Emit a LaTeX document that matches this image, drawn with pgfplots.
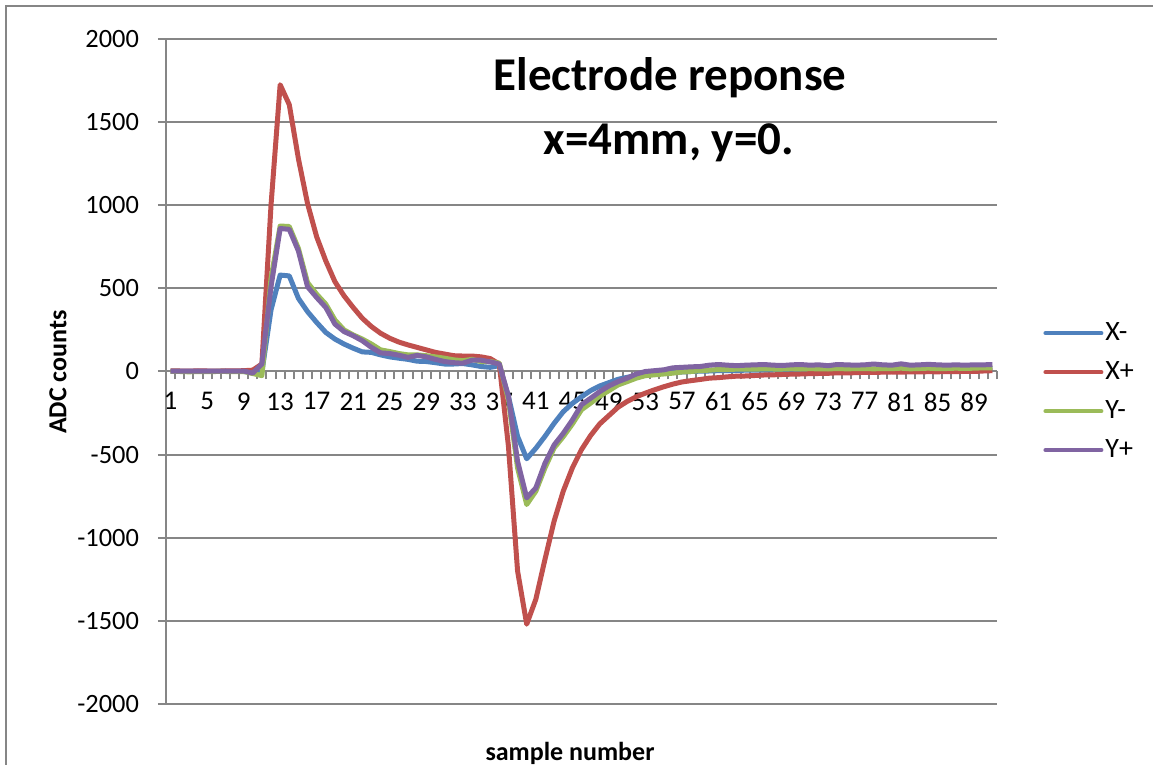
\documentclass[border=0pt]{standalone}
\usepackage{pgfplots}
\usepackage{pgfplotstable}
\pgfplotsset{compat=1.18}
\usepackage{fontspec}
\setmainfont{Carlito}
\definecolor{cblue}{RGB}{79,129,189}
\definecolor{cred}{RGB}{192,80,77}
\definecolor{cgreen}{RGB}{155,187,89}
\definecolor{cpurple}{RGB}{128,100,162}
\definecolor{cgrid}{RGB}{134,134,134}

\pgfplotstableread{
c red blue green purple
1 3 0 0 2
2 3 0 0 2
3 2 0 -2 2
4 4 1 0 3
5 3 0 -1 2
6 2 0 0 2
7 4 0 0 3
8 3 0 -1 2
9 5 0 0 3
10 8 -5 -12 -10
11 45 -5 -25 45
12 1000 370 560 510
13 1725 580 875 860
14 1605 575 872 855
15 1280 440 740 725
16 1010 360 535 510
17 810 295 465 445
18 665 235 405 385
19 540 195 310 285
20 455 165 250 240
21 385 140 220 215
22 320 118 195 185
23 270 115 165 145
24 230 100 130 112
25 200 88 120 108
26 177 80 108 98
27 160 73 100 85
28 145 62 100 97
29 130 60 95 88
30 115 53 88 73
31 105 45 80 60
32 95 45 70 53
33 93 48 65 50
34 93 40 73 68
35 88 30 60 68
36 78 25 60 58
37 45 35 50 45
38 -450 -150 -170 -150
39 -1200 -390 -580 -540
40 -1520 -525 -800 -760
41 -1370 -462 -720 -700
42 -1130 -390 -580 -552
43 -900 -312 -460 -442
44 -720 -242 -392 -372
45 -580 -192 -316 -292
46 -470 -152 -230 -200
47 -385 -115 -190 -161
48 -315 -87 -148 -121
49 -265 -67 -115 -87
50 -215 -47 -81 -61
51 -180 -35 -61 -40
52 -152 -25 -40 -15
53 -130 -15 -25 0
54 -110 -10 -20 5
55 -92 -7 -15 10
56 -76 -5 -10 22
57 -63 -3 -3 25
58 -55 0 0 28
59 -48 2 5 30
60 -40 3 8 38
61 -37 5 12 42
62 -32 5 12 38
63 -28 6 14 35
64 -27 8 15 38
65 -24 8 14 40
66 -21 9 16 42
67 -20 9 15 38
68 -18 10 15 36
69 -16 10 17 40
70 -15 10 15 42
71 -13 11 17 38
72 -12 11 16 40
73 -11 11 15 35
74 -8 12 18 42
75 -9 12 16 40
76 -7 12 17 38
77 -5 12 18 40
78 -6 12 16 45
79 -4 13 18 40
80 -3 13 17 38
81 -4 13 20 46
82 -2 13 16 38
83 -3 13 18 40
84 -1 14 20 43
85 -2 14 17 40
86 0 14 18 38
87 -1 14 20 40
88 1 14 18 38
89 0 15 20 40
90 3 15 22 40
91 5 15 22 42
}\datatable

\begin{document}
\begin{tikzpicture}[x=0.5pt,y=0.5pt]
\useasboundingbox (0,0) rectangle (1153,765);
\begin{scope}
\clip (0,0) rectangle (1153,765);
\draw[cgrid, line width=1pt] (6,-20) -- (6,759) -- (1200,759);
\end{scope}
\begin{axis}[
  at={(83pt,30.5pt)}, anchor=south west,
  scale only axis, width=415.5pt, height=332.5pt,
  xmin=0.5, xmax=91.5, ymin=-2000, ymax=2000,
  axis y line=left, axis x line=middle,
  axis line style={-, cgrid, line width=1pt},
  ytick={-2000,-1500,-1000,-500,0,500,1000,1500,2000},
  yticklabels={-2000,-1500,-1000,-500,0,500,1000,1500,2000},
  ymajorgrids, grid style={cgrid, line width=1pt},
  xtick={1,5,...,89},
  xticklabels={1,5,9,13,17,21,25,29,33,37,41,45,49,53,57,61,65,69,73,77,81,85,89},
  minor xtick={0.5,1.5,...,91.5},
  major x tick style={draw=none},
  minor x tick style={cgrid, line width=1pt},
  major y tick style={cgrid, line width=1pt},
  tick align=outside,
  minor tick length=4pt, major tick length=4pt,
  xticklabel style={font=\fontsize{13.5}{15}\selectfont, yshift=-3pt},
  yticklabel style={font=\fontsize{13.2}{15}\selectfont, xshift=-6pt},
  legend style={at={(1.0554,0.4697)}, anchor=west, draw=none, fill=none,
    inner sep=0pt, font=\fontsize{14}{16}\selectfont, row sep=7pt,
    nodes={inner sep=1pt}},
  legend cell align=left,
  legend image code/.code={\draw[#1, line width=2pt, line cap=round] (0pt,0pt) -- (28pt,0pt);},
  every axis plot/.append style={line width=2.5pt, line join=round, mark=none},
  clip=false,
]
\addplot[cblue] table[x=c, y=blue] {\datatable};
\addplot[cred] table[x=c, y=red] {\datatable};
\addplot[cgreen] table[x=c, y=green] {\datatable};
\addplot[cpurple] table[x=c, y=purple] {\datatable};
\legend{X-,X+,Y-,Y+}
\end{axis}
\node[anchor=base, font=\fontsize{23.5}{28}\selectfont\bfseries] at (670,674) {Electrode reponse};
\node[anchor=base, font=\fontsize{23.5}{28}\selectfont\bfseries] at (669,610) {x=4mm, y=0.};
\node[rotate=90, font=\fontsize{13}{15}\selectfont\bfseries] at (58,393) {ADC counts};
\node[anchor=base, font=\fontsize{13}{15}\selectfont\bfseries] at (570,4) {sample number};
\end{tikzpicture}
\end{document}
